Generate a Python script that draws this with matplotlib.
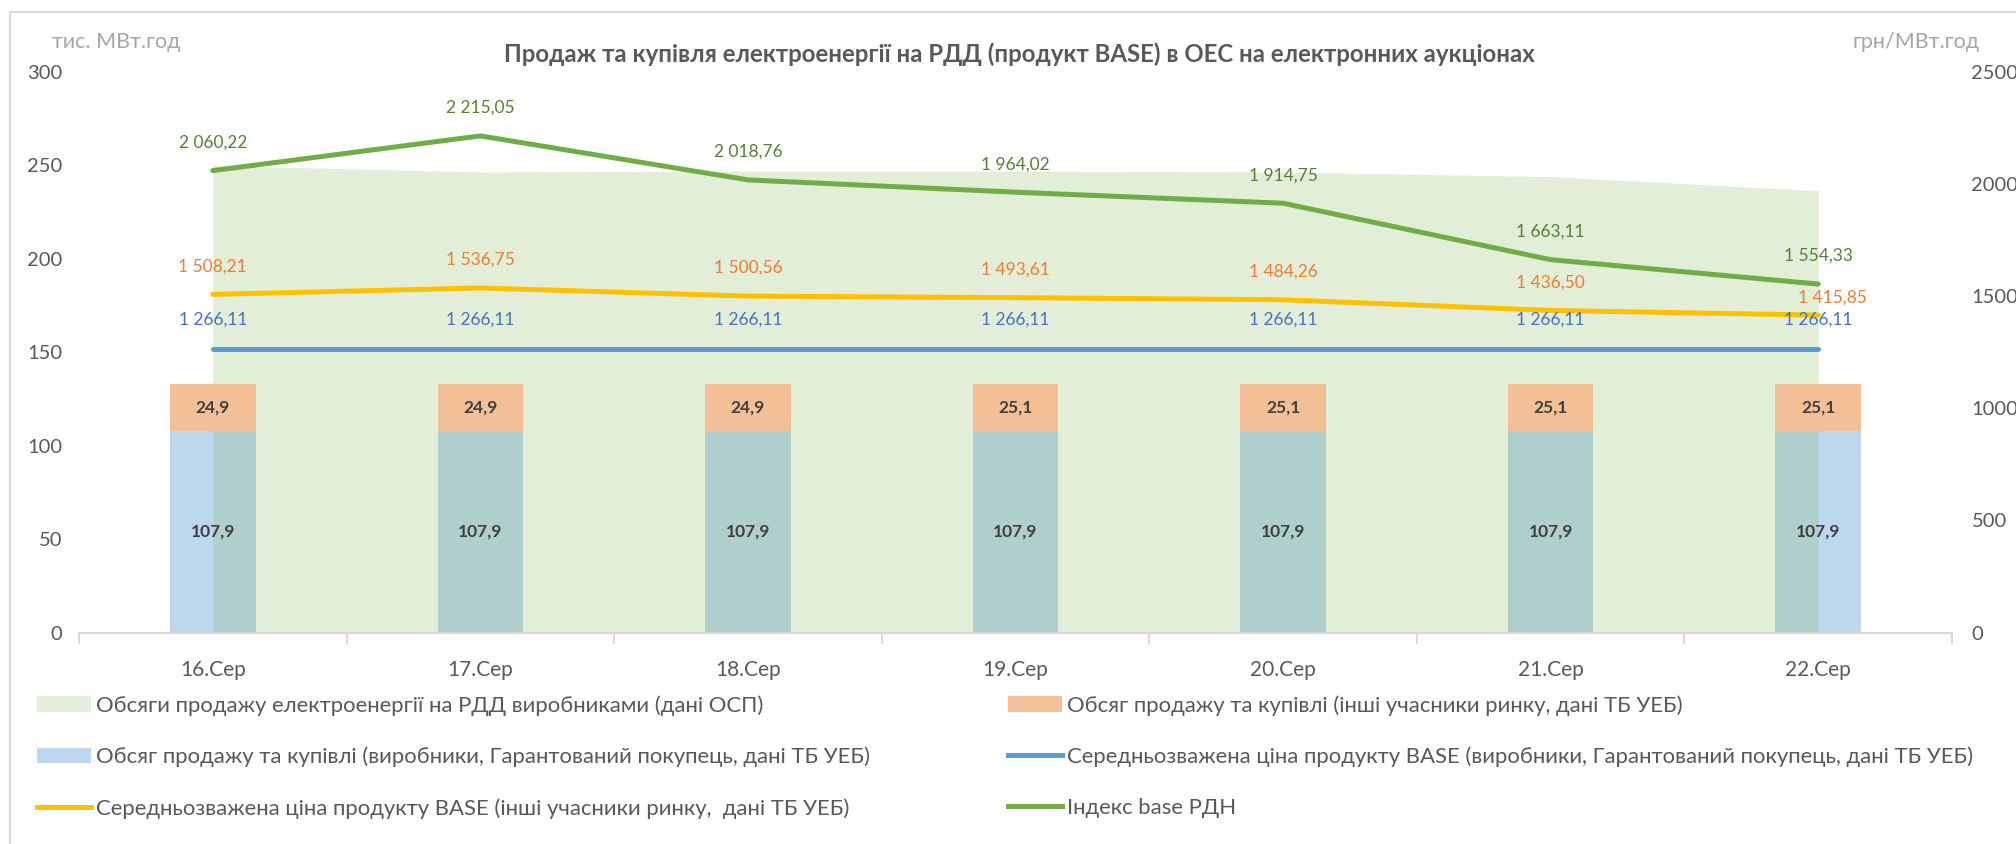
import numpy as np
import matplotlib.pyplot as plt
from matplotlib.patches import Rectangle, Patch
from matplotlib.lines import Line2D

plt.rcParams['font.family'] = ['Lato', 'DejaVu Sans']

days = ['16.Сер', '17.Сер', '18.Сер', '19.Сер', '20.Сер', '21.Сер', '22.Сер']
osp_volume = [250, 246.5, 247, 247, 246.5, 244, 236.5]
prod_volume = [107.9, 107.9, 107.9, 107.9, 107.9, 107.9, 107.9]
other_volume = [24.9, 24.9, 24.9, 25.1, 25.1, 25.1, 25.1]
price_prod = [1266.11, 1266.11, 1266.11, 1266.11, 1266.11, 1266.11, 1266.11]
price_other = [1508.21, 1536.75, 1500.56, 1493.61, 1484.26, 1436.50, 1415.85]
index_rdn = [2060.22, 2215.05, 2018.76, 1964.02, 1914.75, 1663.11, 1554.33]

lab_area = 'Обсяги продажу електроенергії на РДД виробниками (дані ОСП)'
lab_prod = 'Обсяг продажу та купівлі (виробники, Гарантований покупець, дані ТБ УЕБ)'
lab_other = 'Обсяг продажу та купівлі (інші учасники ринку, дані ТБ УЕБ)'
lab_pprod = 'Середньозважена ціна продукту BASE (виробники, Гарантований покупець, дані ТБ УЕБ)'
lab_pother = 'Середньозважена ціна продукту BASE (інші учасники ринку,  дані ТБ УЕБ)'
lab_index = 'Індекс base РДН'

c_area = (124/255, 180/255, 80/255)
c_bar_prod = '#BDD7EE'
c_bar_other = '#F2BF96'
c_green = '#70AD47'
c_yellow = '#FFC000'
c_blue = '#5B9BD5'
c_tick = '#595959'


def fmt(v):
    return f"{v:,.2f}".replace(',', ' ').replace('.', ',')


def fmt1(v):
    return f"{v:.1f}".replace('.', ',')


W, H = 2016, 844
fig = plt.figure(figsize=(W / 100, H / 100), dpi=100)
ax = fig.add_axes([79 / W, 1 - 632.6 / H, (1952 - 79) / W, (632.6 - 72) / H])
ax2 = ax.twinx()

x = np.arange(len(days))

# bars + area on left axis (area sits between the two bar parts)
ax.bar(x, prod_volume, width=0.32, color=c_bar_prod, zorder=1)
ax.fill_between(x, osp_volume, color=c_area, alpha=0.22, lw=0, zorder=2)
ax.bar(x, other_volume, width=0.32, bottom=prod_volume, color=c_bar_other, zorder=3)

for i in range(len(x)):
    ax.text(x[i], prod_volume[i] / 2, fmt1(prod_volume[i]), ha='center', va='center',
            fontsize=12.5, fontweight='bold', color='#404040', zorder=4)
    ax.text(x[i], prod_volume[i] + other_volume[i] / 2, fmt1(other_volume[i]), ha='center',
            va='center', fontsize=12.5, fontweight='bold', color='#404040', zorder=4)

ax.set_xlim(-0.5, 6.5)
ax.set_ylim(0, 300)
ax.set_yticks(np.arange(0, 301, 50))
ax2.set_ylim(0, 2500)
ax2.set_yticks(np.arange(0, 2501, 500))

# lines on right axis
ax2.plot(x, price_prod, color=c_blue, lw=3.6, solid_capstyle='round')
ax2.plot(x, price_other, color=c_yellow, lw=3.6, solid_capstyle='round')
ax2.plot(x, index_rdn, color=c_green, lw=3.6, solid_capstyle='round')

for i in range(len(x)):
    ax2.annotate(fmt(index_rdn[i]), (x[i], index_rdn[i]), xytext=(0, 28),
                 textcoords='offset pixels', ha='center', va='center',
                 fontsize=12.5, color='#548235')
    ax2.annotate(fmt(price_prod[i]), (x[i], price_prod[i]), xytext=(0, 29),
                 textcoords='offset pixels', ha='center', va='center',
                 fontsize=12.5, color='#4472C4')
    if i == len(x) - 1:
        off = (14, 17)
    else:
        off = (0, 28)
    ax2.annotate(fmt(price_other[i]), (x[i], price_other[i]), xytext=off,
                 textcoords='offset pixels', ha='center', va='center',
                 fontsize=12.5, color='#ED7D31')

for a in (ax, ax2):
    for s in ('top', 'left', 'right'):
        a.spines[s].set_visible(False)
    a.spines['bottom'].set_color('#D9D9D9')
    a.spines['bottom'].set_linewidth(1.5)

ax.set_xticks(x)
ax.set_xticklabels(days)
ax.set_xticks(np.arange(-0.5, 7, 1), minor=True)
ax.tick_params(axis='x', which='major', length=0, pad=20, labelsize=15, labelcolor=c_tick)
ax.tick_params(axis='x', which='minor', length=8, width=1.5, color='#D9D9D9')
ax.tick_params(axis='y', length=0, pad=12, labelsize=14.5, labelcolor=c_tick)
ax2.tick_params(axis='y', length=0, pad=14, labelsize=14.5, labelcolor=c_tick)

fig.text(52 / W, 1 - 42 / H, 'тис. МВт.год', ha='left', va='center', fontsize=15.5, color='#A6A6A6')
fig.text(1980 / W, 1 - 42 / H, 'грн/МВт.год', ha='right', va='center', fontsize=15.5, color='#A6A6A6')
fig.text(1019 / W, 1 - 54 / H,
         'Продаж та купівля електроенергії на РДД (продукт BASE) в ОЕС на електронних аукціонах',
         ha='center', va='center', fontsize=17.3, fontweight='bold', color='#595959')

# legends
h_area = Patch(facecolor='#E2EFDA', edgecolor='none')
h_prod = Patch(facecolor=c_bar_prod, edgecolor='none')
h_other = Patch(facecolor='#F4C19B', edgecolor='none')
h_pprod = Line2D([], [], color=c_blue, lw=3.6)
h_pother = Line2D([], [], color=c_yellow, lw=3.6)
h_index = Line2D([], [], color=c_green, lw=3.6)

leg_kw = dict(loc='upper left', frameon=False, fontsize=15.9, borderpad=0, borderaxespad=0,
              labelspacing=1.4, handlelength=2.45, handletextpad=0.23, labelcolor=c_tick)
leg1 = fig.legend([h_area, h_prod, h_pother], [lab_area, lab_prod, lab_pother],
                  bbox_to_anchor=(37 / W, 1 - 695 / H), **leg_kw)
leg2 = fig.legend([h_other, h_pprod, h_index], [lab_other, lab_pprod, lab_index],
                  bbox_to_anchor=(1008 / W, 1 - 695 / H), **leg_kw)

# chart frame
fig.patches.append(Rectangle((10 / W, -0.05), 1.1, 1 - 12 / H + 0.05, transform=fig.transFigure,
                             fill=False, edgecolor='#D9D9D9', lw=1.5))

fig.savefig('out.png', dpi=100)
